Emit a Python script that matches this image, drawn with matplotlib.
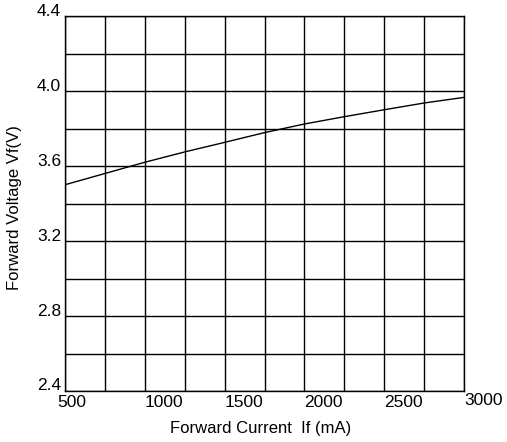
import numpy as np
import matplotlib
matplotlib.use('Agg')
import matplotlib.pyplot as plt

plt.rcParams['font.family'] = ['Liberation Sans', 'DejaVu Sans']

# Forward current (mA) vs forward voltage (V)
current = [500, 750, 1000, 1250, 1500, 1750, 2000, 2250, 2500, 2750, 3000]
voltage = [3.50, 3.56, 3.62, 3.675, 3.726, 3.778, 3.824, 3.863, 3.900, 3.936, 3.966]

x_ticks = [500, 1000, 1500, 2000, 2500, 3000]
y_ticks = [2.4, 2.8, 3.2, 3.6, 4.0, 4.4]

fig = plt.figure(figsize=(5.07, 4.42), dpi=100)
ax = fig.add_axes([65 / 507, 1 - 391 / 442, 399 / 507, 375 / 442])

ax.plot(current, voltage, color='black', linewidth=1.0)

ax.set_xlim(500, 3000)
ax.set_ylim(2.4, 4.4)

# grid every 250 mA / 0.2 V
ax.set_xticks(x_ticks)
ax.set_yticks(y_ticks)
ax.set_xticks(np.arange(500, 3001, 250), minor=True)
ax.set_yticks(np.arange(2.4, 4.41, 0.2), minor=True)
ax.grid(which='both', color='black', linewidth=1.0)
ax.tick_params(which='both', length=0)
ax.set_xticklabels([])
ax.set_yticklabels([])
for s in ax.spines.values():
    s.set_linewidth(1.0)

# tick labels placed like the datasheet: left-aligned under x gridlines, raised on y
for v in x_ticks:
    dx = -8 if v == 500 else 0
    dy = -2 if v == 3000 else -4
    ax.annotate(str(v), (v, 2.4), xytext=(dx, dy), textcoords='offset pixels',
                ha='left', va='top', fontsize=12.5, annotation_clip=False)
for v in y_ticks:
    ax.annotate(f'{v:.1f}', (500, v), xytext=(-4, 5), textcoords='offset pixels',
                ha='right', va='center', fontsize=12.5, annotation_clip=False)

fig.text(261 / 507, 1 - 428 / 442, 'Forward Current  If (mA)', ha='center', va='center', fontsize=12)
fig.text(15 / 507, 1 - 208 / 442, 'Forward Voltage Vf(V)', ha='center', va='center',
         rotation=90, fontsize=12)

fig.savefig('out.png', dpi=100)
